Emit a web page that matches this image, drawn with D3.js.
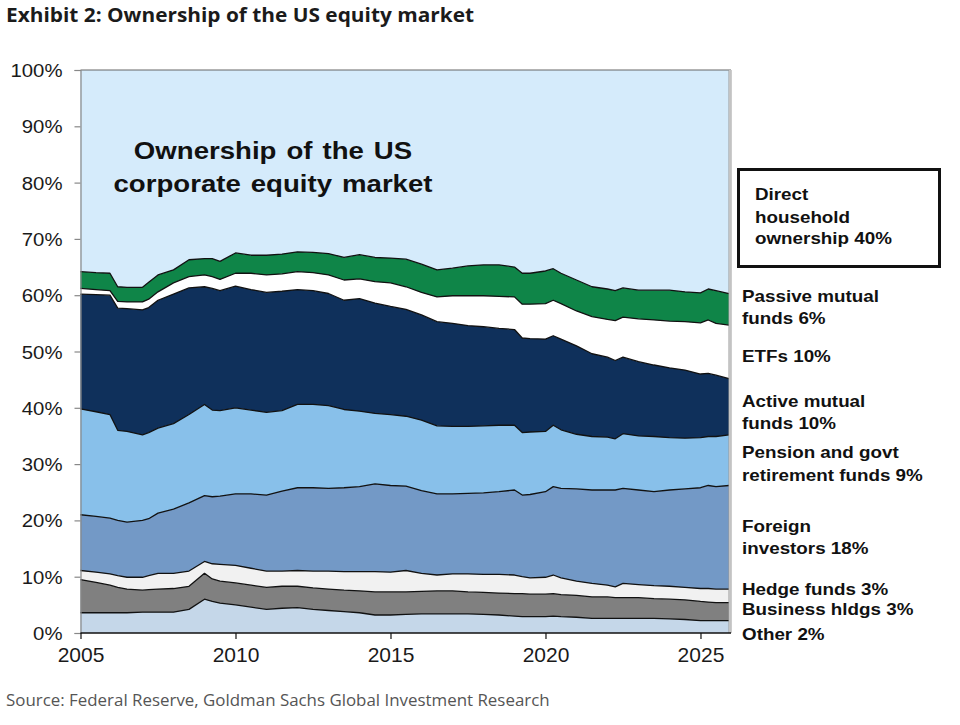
<!DOCTYPE html>
<html><head><meta charset="utf-8">
<script src="https://cdn.jsdelivr.net/npm/d3@7/dist/d3.min.js"></script>
<style>body{margin:0;background:#fff;} svg{display:block}</style>
</head><body>
<svg id="chart" width="960" height="725"></svg>
<script>
// ---- data (shares of US corporate equity, %) ----
const dates = [2005.0,2005.5,2005.95,2006.2,2006.5,2007.0,2007.2,2007.5,2008.0,2008.5,2009.0,2009.25,2009.5,2010.0,2010.5,2011.0,2011.5,2012.0,2012.5,2013.0,2013.5,2014.0,2014.5,2015.0,2015.5,2016.0,2016.5,2017.0,2017.5,2018.0,2018.5,2019.0,2019.25,2019.5,2020.0,2020.25,2020.5,2021.0,2021.5,2022.0,2022.25,2022.5,2023.0,2023.5,2024.0,2024.5,2025.0,2025.25,2025.5,2025.92];
const other     = [3.6,3.6,3.6,3.6,3.6,3.7,3.7,3.7,3.7,4.2,6.0,5.6,5.3,5.0,4.6,4.2,4.4,4.5,4.2,4.0,3.8,3.6,3.2,3.2,3.3,3.4,3.4,3.4,3.4,3.3,3.2,3.0,2.9,2.9,2.9,3.0,2.9,2.8,2.6,2.6,2.6,2.6,2.6,2.6,2.5,2.4,2.2,2.2,2.2,2.2];
const business  = [5.9,5.4,4.9,4.5,4.2,3.9,4.0,4.1,4.2,4.1,4.6,4.0,3.9,3.9,3.9,3.9,3.9,3.8,3.8,3.8,3.8,3.9,4.1,4.1,4.0,4.0,4.1,4.1,3.9,3.9,3.9,4.0,4.1,4.0,4.0,4.0,3.9,3.9,3.8,3.8,3.7,3.7,3.7,3.5,3.5,3.5,3.4,3.3,3.2,3.2];
const hedge     = [1.6,1.8,2.0,2.1,2.1,2.3,2.5,2.8,2.7,2.7,2.1,2.7,3.0,3.1,3.0,2.9,2.7,2.8,3.0,3.2,3.3,3.4,3.6,3.5,3.8,3.2,2.8,3.0,3.2,3.2,3.3,3.3,3.0,2.9,3.0,3.3,3.0,2.5,2.4,2.1,1.9,2.5,2.3,2.3,2.3,2.2,2.3,2.4,2.4,2.4];
const foreign   = [9.9,9.9,9.9,9.8,9.8,10.1,10.1,10.7,11.4,12.1,11.7,11.9,12.1,12.7,13.2,13.5,14.2,14.7,14.8,14.7,14.9,15.1,15.6,15.4,15.0,14.7,14.4,14.2,14.3,14.5,14.7,15.1,14.5,14.8,15.2,15.7,15.9,16.4,16.6,16.9,17.2,16.9,16.8,16.7,17.1,17.5,17.9,18.3,18.2,18.4];
const pension   = [18.8,18.6,18.4,16.0,16.1,15.2,15.3,15.1,15.2,15.7,16.2,15.4,15.2,15.3,14.9,14.7,14.3,14.8,14.8,14.7,13.9,13.4,12.5,12.6,12.4,12.5,12.1,12.0,11.9,11.9,11.8,11.5,11.1,11.1,10.7,10.9,10.4,9.7,9.5,9.4,9.1,9.7,9.6,9.8,9.3,9.0,8.9,8.7,8.9,9.0];
const active    = [20.4,20.8,21.2,21.7,21.8,22.2,22.2,22.7,23.0,22.5,20.9,21.6,21.3,21.6,21.4,21.3,21.2,20.4,20.2,19.9,19.4,20.0,19.6,19.2,19.0,18.7,18.5,18.3,17.9,17.6,17.2,17.0,16.8,16.6,16.4,15.9,16.1,15.7,14.7,14.2,13.9,13.6,13.2,12.7,12.4,12.1,11.3,11.2,10.9,10.0];
const etfs      = [1.0,0.9,0.8,1.2,1.2,1.4,1.5,1.5,2.0,2.0,2.1,2.1,2.0,2.3,2.9,3.1,3.1,3.2,3.2,3.3,3.6,3.5,3.8,4.2,4.0,4.0,4.4,4.9,5.3,5.5,5.7,5.8,6.0,6.1,6.3,6.3,6.3,6.2,6.6,6.7,7.1,7.1,7.6,8.0,8.3,8.6,9.1,9.5,9.2,9.5];
const passive   = [3.0,3.0,3.1,2.6,2.6,2.6,3.0,3.0,2.3,3.0,2.9,3.2,3.2,3.6,3.2,3.5,3.5,3.5,3.6,3.8,4.0,4.3,4.3,4.4,4.9,5.0,4.8,4.9,5.3,5.5,5.6,5.3,5.5,5.5,5.8,5.6,5.4,5.5,5.3,5.4,5.3,5.2,5.1,5.3,5.5,5.3,5.3,5.5,5.8,5.6];
const household = [35.8,36.0,36.1,38.5,38.6,38.6,37.7,36.4,35.5,33.7,33.5,33.5,34.0,32.5,32.9,32.9,32.7,32.3,32.4,32.6,33.3,32.8,33.3,33.4,33.6,34.5,35.5,35.2,34.8,34.6,34.6,35.0,36.1,36.1,35.7,35.3,36.1,37.3,38.5,38.9,39.2,38.7,39.1,39.1,39.1,39.4,39.6,38.9,39.2,39.7];

const seriesKeys = ["other","business","hedge","foreign","pension","active","etfs","passive","household"];
const seriesValues = {other, business, hedge, foreign, pension, active, etfs, passive, household};
const seriesColors = {
  other:"#c5d7e9", business:"#808080", hedge:"#f1f1f1", foreign:"#7399c6",
  pension:"#88c0ea", active:"#0f305b", etfs:"#ffffff", passive:"#0f8548", household:"#d5ebfb"
};
const yTicks = [0,10,20,30,40,50,60,70,80,90,100];
const xTicks = [2005,2010,2015,2020,2025];
const boxLabel = ["Direct","household","ownership 40%"];
const sideLabels = [
  ["Passive mutual","funds 6%"],
  ["ETFs 10%"],
  ["Active mutual","funds 10%"],
  ["Pension and govt","retirement funds 9%"],
  ["Foreign","investors 18%"],
  ["Hedge funds 3%"],
  ["Business hldgs 3%"],
  ["Other 2%"]
];
const sideBaselines = [[301.5,323.5],[361.5],[406.5,428.5],[457.5,480.5],[531.5,553.5],[595],[615],[639.5]];

// ---- layout ----
const svg = d3.select("#chart");
const L = 80.5, R = 729, T = 70, B = 633;
const x = d3.scaleLinear().domain([2005, 2025.92]).range([L, R]);
const y = d3.scaleLinear().domain([0, 100]).range([B, T]);

const table = dates.map((d,i) => {
  const row = {date:d};
  seriesKeys.forEach(k => row[k] = seriesValues[k][i]);
  return row;
});
const stack = d3.stack().keys(seriesKeys).order(d3.stackOrderNone).offset(d3.stackOffsetNone);
const layers = stack(table);

// background of plot
svg.append("rect").attr("x",L).attr("y",T).attr("width",R-L).attr("height",B-T).attr("fill",seriesColors.household);

const area = d3.area().x(d=>x(d.data.date)).y0(d=>y(d[0])).y1(d=>y(d[1]));
svg.append("g").selectAll("path").data(layers).join("path")
  .attr("d", area).attr("fill", d=>seriesColors[d.key]);

const topLine = d3.line().x(d=>x(d.data.date)).y(d=>y(d[1]));
svg.append("g").selectAll("path").data(layers.filter(l=>l.key!=="household")).join("path")
  .attr("d", topLine).attr("fill","none").attr("stroke","#111").attr("stroke-width",1.3).attr("stroke-linejoin","round");

// frame
svg.append("line").attr("x1",L).attr("x2",R+2).attr("y1",T).attr("y2",T).attr("stroke","#666").attr("stroke-width",1);
svg.append("line").attr("x1",R+1).attr("x2",R+1).attr("y1",T).attr("y2",B).attr("stroke","#999").attr("stroke-width",3);
svg.append("line").attr("x1",R+1).attr("x2",R+1).attr("y1",T).attr("y2",B).attr("stroke","#eee").attr("stroke-width",1);

// y axis
const yAxis = svg.append("g").attr("transform",`translate(${L},0)`)
  .call(d3.axisLeft(y).tickValues(yTicks).tickSize(6).tickFormat(d=>d+"%"));
yAxis.select(".domain").attr("stroke","#888").attr("stroke-width",1.2);
yAxis.selectAll(".tick line").attr("stroke","#888").attr("stroke-width",1.2);
yAxis.selectAll(".tick text").remove();
yAxis.selectAll(".tick").append("text")
  .attr("transform","translate(-18,6.5) scale(1.1,1)")
  .attr("text-anchor","end").attr("fill","#1a1a1a")
  .style("font-family","'Liberation Sans', Arial, sans-serif").style("font-size","18.5px")
  .text(d=>d+"%");

// x axis
const xAxis = svg.append("g").attr("transform",`translate(0,${B})`)
  .call(d3.axisBottom(x).tickValues(xTicks).tickSize(6).tickFormat(d3.format("d")));
xAxis.select(".domain").attr("stroke","#111").attr("stroke-width",1.3).attr("d",`M${L},0H${R+2}`);
xAxis.selectAll(".tick line").attr("stroke","#111").attr("stroke-width",1.2);
xAxis.selectAll(".tick text").attr("y",14).attr("dy","0.71em").attr("fill","#1a1a1a")
  .style("font-family","'Liberation Sans', Arial, sans-serif").style("font-size","21px");

// inner title
const it = svg.append("g").style("font-family","'Liberation Sans', Arial, sans-serif")
  .style("font-weight","bold").style("font-size","24px").attr("fill","#111");
[["Ownership of the US",159],["corporate equity market",192]].forEach(([t,by])=>{
  it.append("text").attr("transform",`translate(273,${by}) scale(1.15,1)`).attr("text-anchor","middle")
    .style("word-spacing","2px").text(t);
});

// right side labels
const lab = svg.append("g").style("font-family","'Liberation Sans', Arial, sans-serif")
  .style("font-weight","bold").style("font-size","16.5px").attr("fill","#111");
lab.append("rect").attr("x",738.5).attr("y",169.5).attr("width",201).attr("height",97)
  .attr("fill","#fff").attr("stroke","#111").attr("stroke-width",3);
boxLabel.forEach((t,i)=>{
  lab.append("text").attr("transform",`translate(755,${[200,222.5,244][i]}) scale(1.14,1)`).text(t);
});
sideLabels.forEach((lines,i)=>{
  lines.forEach((t,j)=>{
    lab.append("text").attr("transform",`translate(742,${sideBaselines[i][j]}) scale(1.14,1)`).text(t);
  });
});

// header & source
svg.append("text").attr("x",6).attr("y",21.5).attr("fill","#1b1b1b")
  .attr("textLength",468).attr("lengthAdjust","spacingAndGlyphs")
  .style("font-family","'Open Sans', Lato, sans-serif").style("font-weight","bold").style("font-size","20px")
  .text("Exhibit 2: Ownership of the US equity market");
svg.append("text").attr("x",6).attr("y",706).attr("fill","#555")
  .style("font-family","'Open Sans', sans-serif").style("font-size","16.9px")
  .text("Source: Federal Reserve, Goldman Sachs Global Investment Research");
</script>
</body></html>
